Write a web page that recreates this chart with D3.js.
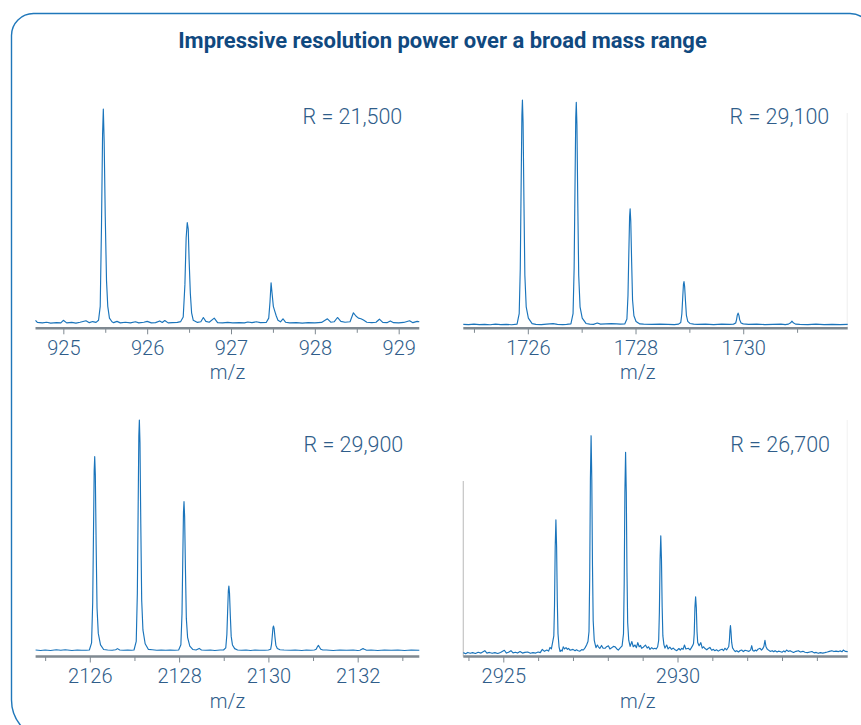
<!DOCTYPE html>
<html>
<head>
<meta charset="utf-8">
<script src="https://cdn.jsdelivr.net/npm/d3@7"></script>
<style>
  html, body { margin: 0; padding: 0; background: #ffffff; }
  svg { display: block; }
</style>
</head>
<body>
<svg id="chart" width="861" height="725"></svg>
<script>
// ---------------- DATA ----------------
const titleText = "Impressive resolution power over a broad mass range";
const axisTitle = "m/z";
const resolutionLabels = ["R = 21,500", "R = 29,100", "R = 29,900", "R = 26,700"];

// x-axis domains (m/z) per panel
const domain925 = [924.668, 929.246];
const domain1726 = [1724.802, 1731.94];
const domain2126 = [2124.786, 2133.38];
const domain2925 = [2923.852, 2934.885];

// labelled and unlabelled tick values per panel
const ticks925 = [925, 926, 927, 928, 929];
const minor925 = [925.5, 926.5, 927.5, 928.5];
const ticks1726 = [1726, 1728, 1730];
const minor1726 = [1725, 1727, 1729, 1731];
const ticks2126 = [2126, 2128, 2130, 2132];
const minor2126 = [2125, 2127, 2129, 2131, 2133];
const ticks2925 = [2925, 2930];
const minor2925 = [2924, 2926, 2927, 2928, 2929, 2931, 2932, 2933, 2934];

// spectra: [m/z, relative intensity %]
const spec925 = [
  [924.668,1.5],[924.69,0.5],[924.75,0.3],[924.80,0.6],[924.85,0.2],[924.92,0.4],[924.97,0.3],[925.00,1.5],
  [925.04,0.3],[925.10,0.5],[925.15,0.2],[925.20,0.6],[925.27,1.3],[925.31,0.4],[925.35,0.9],[925.39,0.5],
  [925.42,1.5],[925.44,8],[925.455,45],[925.468,88],[925.477,100],[925.487,85],[925.50,50],[925.515,20],
  [925.53,8],[925.55,2.5],[925.58,0.8],[925.60,0.4],[925.64,1.0],[925.68,0.3],[925.74,0.6],[925.80,0.3],
  [925.86,0.8],[925.90,0.3],[925.96,0.6],[926.00,1.0],[926.05,0.3],[926.10,0.4],[926.15,1.2],[926.18,0.5],
  [926.21,1.4],[926.25,0.3],[926.30,0.4],[926.36,0.5],[926.40,0.9],[926.43,3],[926.45,18],[926.465,40],
  [926.478,47],[926.49,44],[926.50,30],[926.515,14],[926.53,5],[926.55,1.5],[926.60,0.5],[926.64,0.8],
  [926.67,2.8],[926.70,1.0],[926.74,0.6],[926.80,2.5],[926.84,0.4],[926.90,0.3],[926.96,0.5],[927.02,0.3],
  [927.10,0.4],[927.16,0.3],[927.20,0.7],[927.25,0.4],[927.30,0.8],[927.35,0.4],[927.42,0.5],[927.45,2.5],
  [927.465,10],[927.478,19],[927.49,14],[927.505,8],[927.52,6],[927.54,3.5],[927.56,1.5],[927.59,0.8],
  [927.62,2.2],[927.65,0.6],[927.70,0.3],[927.78,0.4],[927.85,0.2],[927.92,0.4],[928.00,0.3],[928.08,0.5],
  [928.15,2.2],[928.19,0.6],[928.23,0.8],[928.27,2.8],[928.31,1.0],[928.36,0.6],[928.42,0.8],[928.46,5.0],
  [928.49,3.5],[928.52,2.5],[928.55,2.2],[928.58,1.6],[928.62,0.6],[928.68,0.4],[928.73,0.6],[928.77,2.0],
  [928.81,0.5],[928.86,0.4],[928.90,1.2],[928.94,0.4],[929.00,0.3],[929.06,0.5],[929.13,1.3],[929.17,0.4],
  [929.22,1.0],[929.246,0.8]
];

const spec1726 = [
  [1724.802,0.2],[1724.9,0.1],[1725.0,0.3],[1725.1,0.1],[1725.2,0.2],[1725.3,0.0],[1725.4,0.3],[1725.5,0.1],
  [1725.6,0.2],[1725.7,0.0],[1725.80,0.3],[1725.84,5],[1725.86,25],[1725.875,60],[1725.89,93],[1725.90,100],
  [1725.912,90],[1725.928,55],[1725.945,22],[1725.97,8],[1726.01,3],[1726.08,0.5],[1726.15,0.2],[1726.25,0.1],
  [1726.35,0.3],[1726.47,0.5],[1726.55,0.2],[1726.65,0.1],[1726.72,0.2],[1726.80,0.4],[1726.84,5],[1726.86,25],
  [1726.875,59],[1726.89,92],[1726.90,99],[1726.912,89],[1726.928,54],[1726.945,22],[1726.97,8],[1727.01,3],
  [1727.08,0.6],[1727.15,0.3],[1727.22,0.2],[1727.29,0.8],[1727.35,0.3],[1727.45,0.4],[1727.55,0.5],[1727.65,0.4],
  [1727.72,0.3],[1727.80,0.4],[1727.84,2.6],[1727.86,13],[1727.875,31],[1727.89,48],[1727.90,51.6],[1727.912,46],
  [1727.928,28],[1727.945,11],[1727.97,4],[1728.01,1.5],[1728.08,0.4],[1728.15,0.3],[1728.3,0.2],[1728.45,0.3],
  [1728.6,0.2],[1728.72,0.1],[1728.80,0.3],[1728.84,1],[1728.86,4.8],[1728.875,11.5],[1728.89,18],[1728.90,19.2],
  [1728.912,17],[1728.928,10.5],[1728.945,4.2],[1728.97,1.5],[1729.01,0.6],[1729.08,0.3],[1729.15,0.2],[1729.3,0.3],
  [1729.45,0.1],[1729.6,0.3],[1729.75,0.2],[1729.82,0.3],[1729.86,0.8],[1729.875,2.2],[1729.89,4.3],[1729.905,5.2],
  [1729.92,4.2],[1729.935,2.2],[1729.96,0.8],[1730.0,0.4],[1730.1,0.2],[1730.25,0.3],[1730.4,0.1],[1730.55,0.2],
  [1730.7,0.3],[1730.78,0.1],[1730.84,0.3],[1730.88,0.9],[1730.905,1.6],[1730.93,0.9],[1730.97,0.3],[1731.05,0.2],
  [1731.2,0.1],[1731.35,0.3],[1731.5,0.1],[1731.65,0.2],[1731.8,0.1],[1731.94,0.2]
];

const spec2126 = [
  [2124.786,0.3],[2124.9,0.1],[2125.0,0.3],[2125.12,0.1],[2125.25,0.4],[2125.35,0.2],[2125.45,0.4],[2125.6,0.1],
  [2125.72,0.3],[2125.82,0.2],[2125.92,0.2],[2125.99,0.3],[2126.04,3.4],[2126.065,21],[2126.082,50],[2126.098,78],
  [2126.11,84.1],[2126.124,76],[2126.142,46],[2126.162,18.5],[2126.19,7.5],[2126.24,2.5],[2126.31,0.5],[2126.4,0.3],
  [2126.5,0.2],[2126.58,0.4],[2126.62,0.9],[2126.67,0.3],[2126.75,0.2],[2126.85,0.3],[2126.93,0.2],[2126.99,0.3],
  [2127.04,4],[2127.065,25],[2127.082,60],[2127.098,93],[2127.11,100],[2127.124,90],[2127.142,55],[2127.162,22],
  [2127.19,9],[2127.24,3],[2127.31,0.6],[2127.4,0.4],[2127.5,0.2],[2127.6,0.3],[2127.7,0.2],[2127.8,0.3],
  [2127.9,0.2],[2127.99,0.3],[2128.04,2.6],[2128.065,16],[2128.082,39],[2128.098,60],[2128.11,64.6],[2128.124,58],
  [2128.142,35.5],[2128.162,14],[2128.19,5.8],[2128.24,2],[2128.31,0.5],[2128.38,0.3],[2128.45,1.0],[2128.5,0.3],
  [2128.6,0.2],[2128.7,0.3],[2128.8,0.1],[2128.92,0.3],[2128.995,0.3],[2129.045,1.2],[2129.07,7],[2129.087,17],
  [2129.103,26],[2129.115,28],[2129.129,25],[2129.147,15.4],[2129.167,6.2],[2129.195,2.5],[2129.245,0.9],[2129.31,0.3],
  [2129.4,0.2],[2129.5,0.3],[2129.6,0.1],[2129.7,0.3],[2129.8,0.2],[2129.92,0.2],[2130.0,0.3],[2130.05,0.6],
  [2130.07,2.7],[2130.087,6.4],[2130.103,10],[2130.115,10.7],[2130.129,9.6],[2130.147,5.9],[2130.167,2.4],[2130.2,1],
  [2130.26,0.4],[2130.35,0.3],[2130.5,0.2],[2130.6,0.3],[2130.75,0.1],[2130.85,0.3],[2130.95,0.2],[2131.03,0.3],
  [2131.07,0.6],[2131.095,1.6],[2131.12,2.3],[2131.145,1.5],[2131.175,0.6],[2131.22,0.3],[2131.3,0.3],[2131.45,0.1],
  [2131.6,0.3],[2131.75,0.2],[2131.9,0.3],[2132.0,0.1],[2132.05,0.2],[2132.1,0.7],[2132.12,0.9],[2132.15,0.6],
  [2132.2,0.2],[2132.3,0.3],[2132.45,0.1],[2132.6,0.3],[2132.75,0.2],[2132.9,0.3],[2133.05,0.1],[2133.2,0.3],
  [2133.38,0.2]
];

const spec2925 = [
  [2923.852,0.3],[2923.92,-0.2],[2923.98,0.4],[2924.05,0.0],[2924.12,0.3],[2924.2,-0.1],[2924.28,0.5],[2924.36,0.1],
  [2924.47,1.2],[2924.53,0.1],[2924.6,0.4],[2924.68,0.0],[2924.76,0.3],[2924.84,-0.1],[2924.92,0.4],[2925.03,1.4],
  [2925.09,0.1],[2925.15,0.5],[2925.22,1.2],[2925.28,0.2],[2925.35,0.5],[2925.41,0.1],[2925.48,0.8],[2925.55,0.1],
  [2925.62,0.4],[2925.70,0.6],[2925.78,0.0],[2925.85,0.3],[2925.93,0.1],[2926.0,0.6],[2926.06,0.3],[2926.12,1.8],
  [2926.18,0.9],[2926.25,1.5],[2926.30,1.0],[2926.34,2.7],[2926.38,2.0],[2926.41,4.6],[2926.45,8],[2926.47,22],
  [2926.49,49],[2926.51,61.3],[2926.53,49],[2926.55,24],[2926.57,9],[2926.60,3],[2926.63,0.8],[2926.66,1.5],
  [2926.69,1.0],[2926.72,3.0],[2926.76,2.0],[2926.80,2.6],[2926.84,1.8],[2926.87,2.3],[2926.92,1.4],[2927.0,1.8],
  [2927.06,1.2],[2927.10,1.6],[2927.15,1.2],[2927.20,1.0],[2927.25,1.7],[2927.30,1.5],[2927.35,2.6],[2927.39,3.8],
  [2927.43,5.4],[2927.46,10],[2927.48,35],[2927.50,80],[2927.52,100],[2927.54,80],[2927.56,40],[2927.58,15],
  [2927.61,6],[2927.63,4.6],[2927.66,2.6],[2927.70,3.8],[2927.73,3.0],[2927.77,2.2],[2927.82,3.6],[2927.86,2.4],
  [2927.92,2.3],[2927.96,3.0],[2928.02,3.4],[2928.06,2.0],[2928.11,2.5],[2928.16,3.2],[2928.21,3.0],[2928.26,2.0],
  [2928.30,1.5],[2928.35,2.4],[2928.41,3.4],[2928.45,9],[2928.47,32],[2928.49,74],[2928.51,92.4],[2928.53,74],
  [2928.55,37],[2928.57,14],[2928.60,6],[2928.64,3.2],[2928.69,5.4],[2928.73,3.0],[2928.78,3.8],[2928.82,2.6],
  [2928.86,4.9],[2928.90,3.0],[2928.94,3.6],[2928.97,2.3],[2929.02,2.8],[2929.08,3.8],[2929.13,2.4],[2929.17,3.0],
  [2929.21,1.8],[2929.26,2.6],[2929.30,2.0],[2929.35,2.3],[2929.39,2.0],[2929.43,3],[2929.46,6],[2929.48,19],
  [2929.50,43],[2929.52,54],[2929.54,43],[2929.56,21],[2929.58,8],[2929.61,4],[2929.64,2.4],[2929.69,3.8],
  [2929.73,2.0],[2929.78,2.8],[2929.83,1.8],[2929.88,2.4],[2929.93,1.6],[2929.98,1.2],[2930.04,2.2],[2930.08,1.5],
  [2930.12,2.3],[2930.16,1.8],[2930.20,3.8],[2930.24,2.0],[2930.31,2.3],[2930.36,1.6],[2930.40,2.6],[2930.43,3.4],
  [2930.46,4.5],[2930.48,9],[2930.50,21],[2930.52,26],[2930.54,21],[2930.56,10],[2930.58,5],[2930.62,3.5],
  [2930.67,4.9],[2930.71,2.4],[2930.75,3.0],[2930.78,2.3],[2930.84,1.6],[2930.88,2.2],[2930.93,2.7],[2930.98,1.4],
  [2931.03,1.8],[2931.07,1.2],[2931.12,1.6],[2931.17,1.0],[2931.22,1.5],[2931.28,1.9],[2931.32,1.2],[2931.36,2.3],
  [2931.41,1.6],[2931.44,2.3],[2931.47,3],[2931.49,6],[2931.505,10.5],[2931.52,12.7],[2931.535,10],[2931.555,5],
  [2931.58,2.5],[2931.62,1.5],[2931.66,0.8],[2931.70,1.2],[2931.75,0.6],[2931.80,1.3],[2931.84,1.5],[2931.89,0.8],
  [2931.94,1.4],[2931.99,1.2],[2932.05,0.9],[2932.10,1.6],[2932.13,3.5],[2932.16,1.3],[2932.20,1.0],[2932.23,1.5],
  [2932.27,1.1],[2932.31,1.9],[2932.37,2.3],[2932.41,1.5],[2932.45,2.2],[2932.48,3.2],[2932.51,6.0],[2932.54,3.0],
  [2932.58,1.8],[2932.61,1.5],[2932.66,0.9],[2932.72,1.2],[2932.76,0.7],[2932.80,1.2],[2932.86,0.6],[2932.90,1.0],
  [2932.94,0.8],[2933.0,0.5],[2933.05,1.1],[2933.09,0.6],[2933.13,1.5],[2933.18,0.9],[2933.23,1.2],[2933.27,0.8],
  [2933.33,0.4],[2933.40,0.9],[2933.47,1.2],[2933.53,0.6],[2933.60,0.9],[2933.66,0.5],[2933.73,0.3],[2933.80,0.6],
  [2933.86,0.8],[2933.92,0.2],[2933.98,0.4],[2934.04,0.0],[2934.10,0.3],[2934.17,0.1],[2934.23,0.3],[2934.30,0.6],
  [2934.36,0.9],[2934.43,1.2],[2934.49,0.8],[2934.55,1.0],[2934.62,0.8],[2934.68,1.1],[2934.72,0.7],[2934.76,1.5],
  [2934.81,0.9],[2934.885,0.8]
];

// ---------------- LAYOUT ----------------
const FONT = "Roboto, 'Open Sans', 'Liberation Sans', 'DejaVu Sans', sans-serif";
const LINE_BLUE = "#1a74bb";
const TEXT_BLUE = "#2f5d8a";
const TITLE_BLUE = "#10497f";
const AXIS_GRAY = "#7f8991";

const svg = d3.select("#chart");

// frame with rounded corners
const frame = d3.path();
frame.moveTo(11.5, 700);
frame.lineTo(11.5, 35.5);
frame.arcTo(11.5, 13.5, 33.5, 13.5, 22);
frame.lineTo(850, 13.5);
frame.arcTo(872, 13.5, 872, 35.5, 22);
frame.lineTo(872, 760);
frame.moveTo(11.5, 700);
frame.arcTo(11.5, 740, 51.5, 740, 40);
svg.append("path").attr("d", frame.toString())
  .attr("fill", "none").attr("stroke", "#1f77ba").attr("stroke-width", 1.4);

// title, sized to the reference width
const title = svg.append("text")
  .attr("x", 442.5).attr("y", 48.3)
  .attr("text-anchor", "middle")
  .attr("font-family", FONT).attr("font-weight", 700)
  .attr("font-size", 18).attr("fill", TITLE_BLUE)
  .text(titleText);
{
  const w = title.node().getComputedTextLength();
  if (w > 0) title.attr("font-size", 18 * 529 / w);
}

const panels = [
  { data: spec925, domain: domain925, majors: ticks925, minors: minor925, label: resolutionLabels[0],
    x0: 35.5, x1: 419.3, axisY: 328.3, yBase: 323.5, yTop: 109, rX: 402.3, rY: 124.3,
    tickLabelY: 355, titleX: 227.5, titleY: 379.3 },
  { data: spec1726, domain: domain1726, majors: ticks1726, minors: minor1726, label: resolutionLabels[1],
    x0: 463.3, x1: 847.7, axisY: 328.3, yBase: 324.8, yTop: 100, rX: 829.3, rY: 124.3,
    tickLabelY: 355, titleX: 637.8, titleY: 379.3, rightGuide: { y0: 113, color: "#eeeeee" } },
  { data: spec2126, domain: domain2126, majors: ticks2126, minors: minor2126, label: resolutionLabels[2],
    x0: 35.6, x1: 419.3, axisY: 656.5, yBase: 650.7, yTop: 420, rX: 403.3, rY: 451.8,
    tickLabelY: 683.3, titleX: 227.5, titleY: 708 },
  { data: spec2925, domain: domain2925, majors: ticks2925, minors: minor2925, label: resolutionLabels[3],
    x0: 463.3, x1: 847.7, axisY: 656.5, yBase: 653.3, yTop: 435.7, rX: 830, rY: 452.3,
    tickLabelY: 683.3, titleX: 637.8, titleY: 708, leftGuide: { y0: 481, color: "#c4c4c4" },
    rightGuide: { y0: 420, color: "#f1f1f1" } }
];

panels.forEach(p => {
  const g = svg.append("g");
  const x = d3.scaleLinear().domain(p.domain).range([p.x0, p.x1]);
  const y = d3.scaleLinear().domain([0, 100]).range([p.yBase, p.yTop]);

  if (p.leftGuide) {
    g.append("line").attr("x1", p.x0).attr("x2", p.x0)
      .attr("y1", p.leftGuide.y0).attr("y2", p.axisY)
      .attr("stroke", p.leftGuide.color).attr("stroke-width", 1.2);
  }
  if (p.rightGuide) {
    g.append("line").attr("x1", p.x1 - 0.5).attr("x2", p.x1 - 0.5)
      .attr("y1", p.rightGuide.y0).attr("y2", p.axisY)
      .attr("stroke", p.rightGuide.color).attr("stroke-width", 1);
  }

  // spectrum trace
  const line = d3.line().x(d => x(d[0])).y(d => y(d[1]));
  g.append("path").datum(p.data)
    .attr("d", line)
    .attr("fill", "none").attr("stroke", LINE_BLUE)
    .attr("stroke-width", 1.15).attr("stroke-linejoin", "round");

  // minor ticks
  const minorAxis = d3.axisBottom(x).tickValues(p.minors).tickSize(4.5).tickSizeOuter(0).tickFormat("");
  const gm = g.append("g").attr("transform", `translate(0,${p.axisY})`).call(minorAxis);
  gm.select(".domain").remove();
  gm.selectAll(".tick line").attr("stroke", AXIS_GRAY).attr("stroke-width", 1);

  // major ticks + labels + axis line
  const majorAxis = d3.axisBottom(x).tickValues(p.majors).tickSize(6).tickSizeOuter(0)
    .tickFormat(d3.format("d"));
  const ga = g.append("g").attr("transform", `translate(0,${p.axisY})`).call(majorAxis);
  ga.select(".domain").attr("stroke", AXIS_GRAY).attr("stroke-width", 2.6)
    .attr("d", `M${p.x0},0H${p.x1}`);
  ga.selectAll(".tick line").attr("stroke", AXIS_GRAY).attr("stroke-width", 1);
  ga.selectAll(".tick text")
    .attr("y", p.tickLabelY - p.axisY).attr("dy", null)
    .attr("fill", TEXT_BLUE).attr("font-family", FONT)
    .attr("font-weight", 300).attr("font-size", 20);

  // axis title
  g.append("text").attr("x", p.titleX).attr("y", p.titleY)
    .attr("text-anchor", "middle").attr("font-family", FONT)
    .attr("font-weight", 300).attr("font-size", 20).attr("fill", TEXT_BLUE)
    .text(axisTitle);

  // resolution label
  g.append("text").attr("x", p.rX).attr("y", p.rY)
    .attr("text-anchor", "end").attr("font-family", FONT)
    .attr("font-weight", 300).attr("font-size", 21.5).attr("fill", TEXT_BLUE)
    .text(p.label);
});
</script>
</body>
</html>
